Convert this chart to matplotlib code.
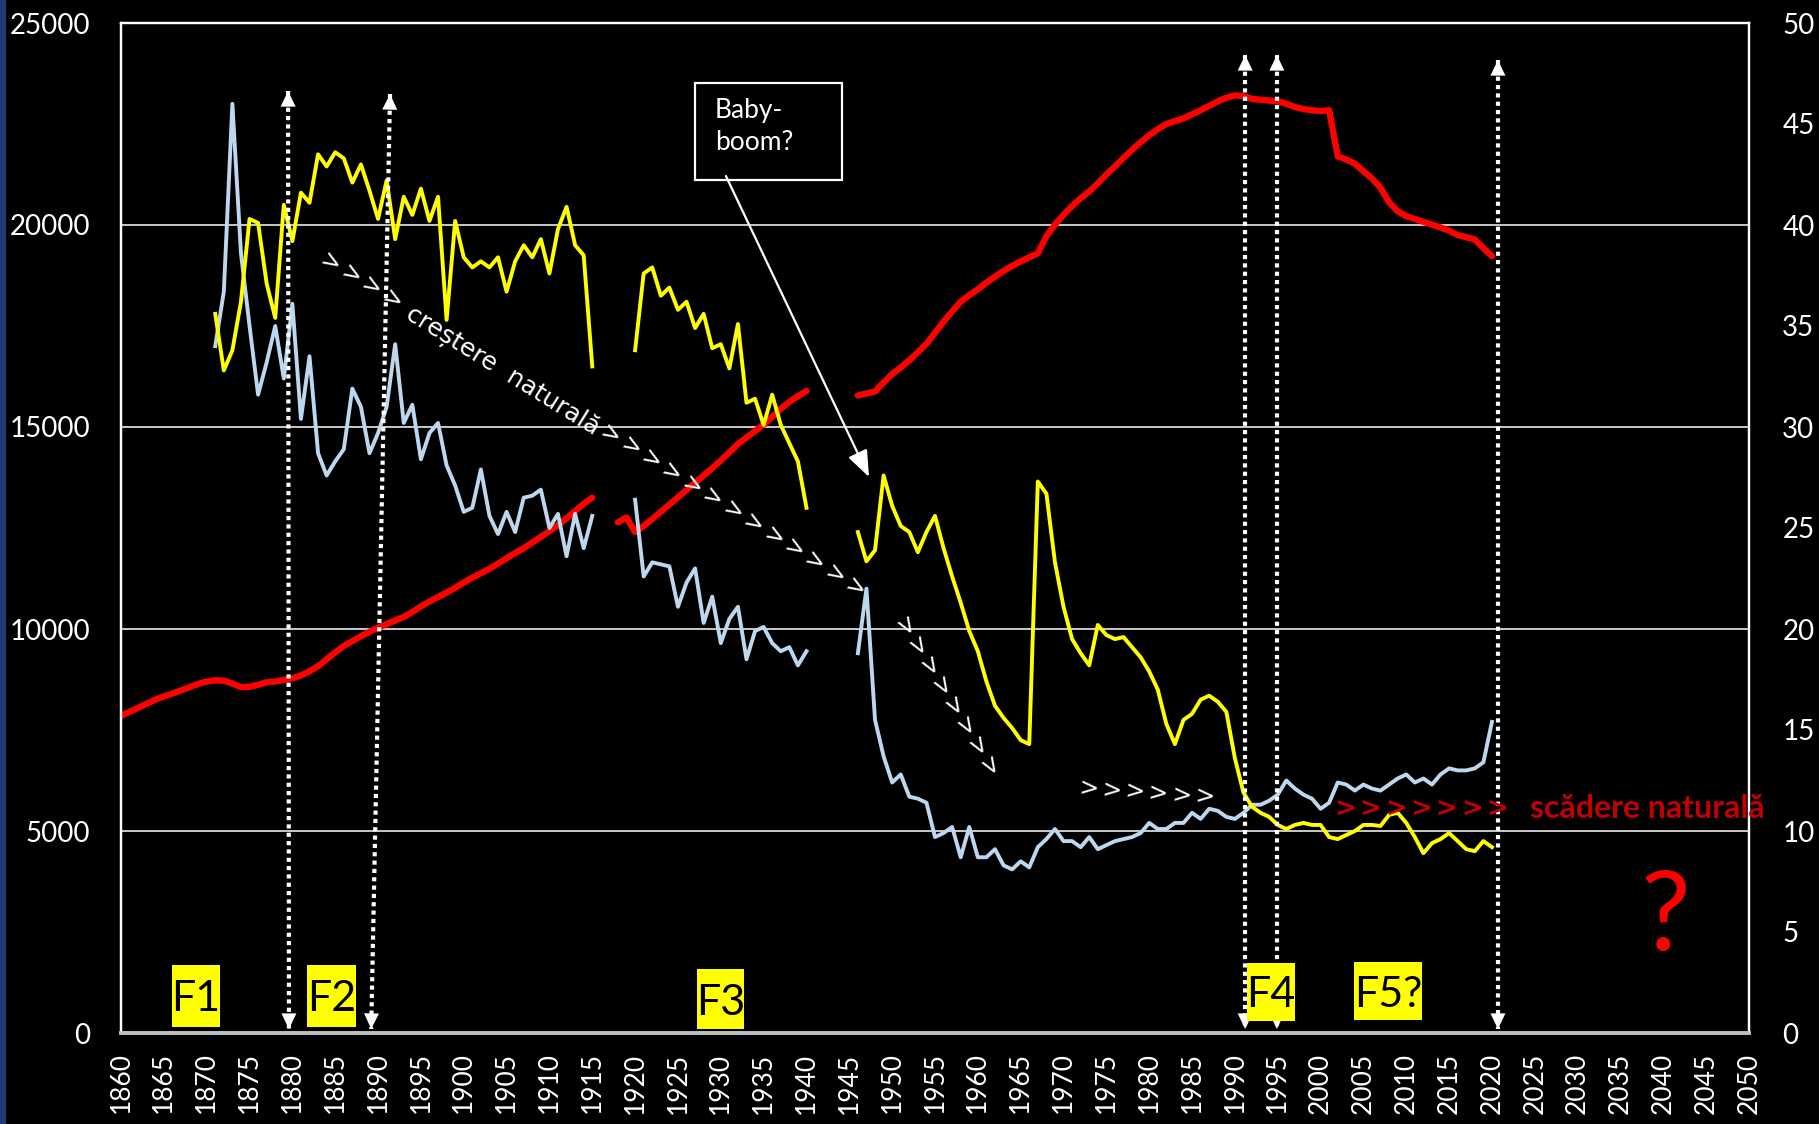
import numpy as np
import matplotlib.pyplot as plt
from matplotlib.patches import Rectangle

plt.rcParams['font.family'] = ['Lato', 'DejaVu Sans']

# Populatia (mii locuitori) - axa stanga
pop_years_a = np.arange(1860, 1916)
pop_a = [7850, 7950, 8050, 8150, 8250, 8330, 8400, 8480, 8560, 8640,
         8700, 8730, 8720, 8650, 8560, 8570, 8620, 8680, 8700, 8740,
         8780, 8850, 8950, 9080, 9250, 9420, 9580, 9700, 9820, 9930,
         10030, 10120, 10210, 10300, 10420, 10560, 10680, 10790, 10900, 11020,
         11150, 11270, 11380, 11490, 11620, 11750, 11880, 12000, 12140, 12280,
         12420, 12570, 12740, 12920, 13100, 13250]
pop_years_b = np.arange(1918, 1941)
pop_b = [12640, 12760, 12400, 12550, 12720, 12900, 13080, 13260, 13440, 13620,
         13800, 13980, 14170, 14370, 14580, 14740, 14900, 15060, 15250, 15450,
         15620, 15760, 15890]
pop_years_c = np.arange(1946, 2021)
pop_c = [15780, 15830, 15880, 16100, 16310, 16470, 16650, 16850, 17060, 17330,
         17610, 17860, 18100, 18260, 18410, 18570, 18720, 18860, 18990, 19100,
         19200, 19300, 19720, 20010, 20250, 20470, 20660, 20830, 21030, 21250,
         21450, 21660, 21860, 22050, 22220, 22370, 22500, 22570, 22640, 22740,
         22840, 22950, 23060, 23150, 23210, 23190, 23120, 23100, 23080, 23060,
         23000, 22920, 22870, 22840, 22820, 22840, 21700, 21620, 21520, 21330,
         21150, 20920, 20560, 20340, 20220, 20150, 20080, 20010, 19940, 19860,
         19750, 19700, 19640, 19430, 19230]

# Natalitate / mortalitate (la 1000 locuitori) - axa dreapta
rate_years_a = np.arange(1871, 1916)
birth_a = [35.6, 32.8, 33.8, 36.2, 40.3, 40.1, 37.1, 35.4, 41.0, 39.2,
           41.6, 41.1, 43.5, 42.9, 43.6, 43.3, 42.1, 43.0, 41.7, 40.3,
           42.2, 39.3, 41.4, 40.5, 41.8, 40.2, 41.4, 35.3, 40.2, 38.4,
           37.9, 38.2, 37.9, 38.4, 36.7, 38.2, 39.0, 38.4, 39.3, 37.6,
           39.8, 40.9, 39.0, 38.5, 33.0]
death_a = [34.0, 36.7, 46.0, 38.6, 35.0, 31.6, 33.2, 35.0, 32.4, 36.1,
           30.4, 33.5, 28.7, 27.6, 28.3, 28.9, 31.9, 31.0, 28.7, 29.7,
           31.0, 34.1, 30.2, 31.1, 28.4, 29.7, 30.2, 28.1, 27.1, 25.8,
           26.0, 27.9, 25.6, 24.7, 25.8, 24.8, 26.5, 26.6, 26.9, 25.0,
           25.7, 23.6, 25.7, 24.0, 25.6]
rate_years_b = np.arange(1920, 1941)
birth_b = [33.8, 37.6, 37.9, 36.5, 36.9, 35.8, 36.2, 34.9, 35.6, 33.9,
           34.1, 32.9, 35.1, 31.2, 31.4, 30.1, 31.6, 30.1, 29.2, 28.3, 26.0]
death_b = [26.4, 22.6, 23.3, 23.2, 23.1, 21.1, 22.3, 23.0, 20.3, 21.6,
           19.3, 20.5, 21.1, 18.5, 19.9, 20.1, 19.3, 18.9, 19.1, 18.2, 18.9]
rate_years_c = np.arange(1946, 2021)
birth_c = [24.8, 23.35, 23.9, 27.6, 26.1, 25.1, 24.8, 23.8, 24.8, 25.6,
           24.0, 22.6, 21.3, 19.9, 18.9, 17.4, 16.2, 15.6, 15.1, 14.5,
           14.3, 27.3, 26.7, 23.3, 21.1, 19.5, 18.8, 18.2, 20.2, 19.7,
           19.5, 19.6, 19.1, 18.6, 17.9, 17.0, 15.3, 14.3, 15.5, 15.8,
           16.5, 16.7, 16.4, 15.9, 13.6, 11.9, 11.2, 10.9, 10.7, 10.3,
           10.1, 10.3, 10.4, 10.3, 10.3, 9.7, 9.6, 9.8, 10.0, 10.3,
           10.3, 10.25, 10.8, 10.9, 10.4, 9.7, 8.9, 9.4, 9.6, 9.9,
           9.5, 9.1, 9.0, 9.5, 9.2]
death_c = [18.8, 22.0, 15.5, 13.7, 12.4, 12.8, 11.7, 11.6, 11.4, 9.7,
           9.9, 10.2, 8.7, 10.2, 8.7, 8.7, 9.1, 8.3, 8.1, 8.5,
           8.2, 9.2, 9.6, 10.1, 9.5, 9.5, 9.2, 9.7, 9.1, 9.3,
           9.5, 9.6, 9.7, 9.9, 10.4, 10.1, 10.1, 10.4, 10.4, 10.9,
           10.6, 11.1, 11.0, 10.7, 10.6, 10.9, 11.3, 11.3, 11.5, 11.8,
           12.5, 12.1, 11.8, 11.6, 11.1, 11.4, 12.4, 12.3, 12.0, 12.3,
           12.1, 12.0, 12.3, 12.6, 12.8, 12.4, 12.6, 12.3, 12.8, 13.1,
           13.0, 13.0, 13.1, 13.4, 15.4]

year_ticks = np.arange(1860, 2051, 5)
left_ticks = np.arange(0, 25001, 5000)
right_ticks = np.arange(0, 51, 5)

phase_labels = ['F1', 'F2', 'F3', 'F4', 'F5?']

fig = plt.figure(figsize=(18.19, 11.24), dpi=100, facecolor='black')
fig.patches.append(Rectangle((0, 0), 5 / 1819, 1, transform=fig.transFigure,
                             color='#1F3A6E', zorder=0))
ax = fig.add_axes([121 / 1819, 91 / 1124, 1628 / 1819, 1010 / 1124])
ax.set_facecolor('black')
ax2 = ax.twinx()

for yrs, vals in [(pop_years_a, pop_a), (pop_years_b, pop_b), (pop_years_c, pop_c)]:
    ax.plot(yrs, vals, color='#FF0000', lw=4.6, solid_capstyle='round',
            solid_joinstyle='round')

for yrs, b, d in [(rate_years_a, birth_a, death_a), (rate_years_b, birth_b, death_b),
                  (rate_years_c, birth_c, death_c)]:
    ax2.plot(yrs, d, color='#BDD7EE', lw=2.8)
    ax2.plot(yrs, b, color='#FFFF00', lw=2.8)

ax.set_xlim(1860, 2050)
ax.set_ylim(0, 25000)
ax2.set_ylim(0, 50)
ax.set_xticks(year_ticks)
ax.set_xticklabels([str(y) for y in year_ticks], rotation=90)
ax.set_yticks(left_ticks)
ax2.set_yticks(right_ticks)
ax.grid(axis='y', color='#D9D9D9', lw=1.3)
ax.set_axisbelow(True)

ax.tick_params(axis='x', colors='white', labelsize=19, length=0, pad=14)
ax.tick_params(axis='y', colors='white', labelsize=20, length=0, pad=22)
ax2.tick_params(axis='y', colors='white', labelsize=20, length=0, pad=24)

for a in (ax, ax2):
    for side in ['left', 'top', 'right']:
        a.spines[side].set_color('white')
        a.spines[side].set_linewidth(1.6)
    a.spines['bottom'].set_color('#BFBFBF')
    a.spines['bottom'].set_linewidth(2.6)

T = ax.transData


def dotted_arrow(top, bottom):
    ax2.plot([top[0], bottom[0]], [top[1], bottom[1]], transform=T, color='white',
             lw=3, ls=(0, (1, 1)), zorder=4)
    for tip, base in [(top, bottom), (bottom, top)]:
        ax2.annotate('', xy=tip, xytext=base, xycoords=T, textcoords=T, zorder=5,
                     arrowprops=dict(arrowstyle='-|>,head_length=0.75,head_width=0.36',
                                     color='white', lw=0, mutation_scale=15,
                                     shrinkA=0, shrinkB=0))


def chevrons(start, end, n, angle, color='white', weight='normal', size=17):
    for x, y in zip(np.linspace(start[0], end[0], n), np.linspace(start[1], end[1], n)):
        ax2.text(x, y, '>', transform=T, rotation=angle, rotation_mode='anchor',
                 ha='center', va='center', color=color, fontsize=size,
                 fontweight=weight, family='DejaVu Sans', zorder=6)


dotted_arrow((1879.5, 23316), (1879.6, 99))
dotted_arrow((1891.4, 23242), (1889.2, 99))
dotted_arrow((1991.2, 24208), (1991.2, 99))
dotted_arrow((1994.9, 24208), (1994.9, 99))
dotted_arrow((2020.7, 24084), (2020.7, 99))

# faze: casete galbene (x0, x1, y0, y1)
phase_boxes = [(1865.95, 1871.55, 149, 1683), (1881.71, 1887.43, 149, 1683),
               (1927.23, 1932.72, 99, 1584), (1991.42, 1997.02, 297, 1733),
               (2003.91, 2011.85, 322, 1757)]
for lab, (x0, x1, y0, y1) in zip(phase_labels, phase_boxes):
    ax2.add_patch(Rectangle((x0, y0), x1 - x0, y1 - y0, transform=T,
                            fc='#FFFF00', ec='none', zorder=7))
    ax2.text((x0 + x1) / 2, (y0 + y1) / 2, lab, transform=T, ha='center',
             va='center_baseline', fontsize=31, color='black', zorder=8)

# Baby-boom
ax2.add_patch(Rectangle((1927.0, 21114), 17.15, 2400, transform=T, fill=False,
                        ec='white', lw=1.6, zorder=6))
ax2.text(1929.3, 23150, 'Baby-\nboom?', transform=T, ha='left', va='top',
         color='white', fontsize=19, linespacing=1.35, zorder=6)
ax2.annotate('', xy=(1947.3, 13762), xytext=(1930.6, 21212), xycoords=T, textcoords=T,
             zorder=6, arrowprops=dict(arrowstyle='-|>,head_length=0.9,head_width=0.35',
                                       color='white', lw=1.6, mutation_scale=18,
                                       shrinkA=0, shrinkB=0))

# crestere naturala
chevrons((1884.4, 19059), (1891.6, 18143), 4, -31.8)
ax2.text(1904.5, 16386, 'creștere  naturală', transform=T, rotation=-31.8,
         rotation_mode='anchor', ha='center', va='center', color='white',
         fontsize=18, family='DejaVu Sans', zorder=6)
chevrons((1917.1, 14802), (1945.7, 11015), 13, -31.8)
chevrons((1951.3, 10049), (1961.2, 6584), 8, -58.8)
chevrons((1972.9, 6039), (1986.5, 5841), 6, -4)

# scadere naturala
chevrons((2002.9, 5544), (2020.6, 5544), 7, 0, color='#C00000', weight='bold', size=19)
ax2.text(2024.45, 5569, 'scădere naturală', transform=T, ha='left', va='center',
         color='#C00000', fontsize=23, fontweight='bold', zorder=6)
ax2.text(2040.2, 2822, '?', transform=T, ha='center', va='center', color='#FF0000',
         fontsize=80, zorder=6)

fig.savefig('out.png', dpi=100, facecolor='black')
